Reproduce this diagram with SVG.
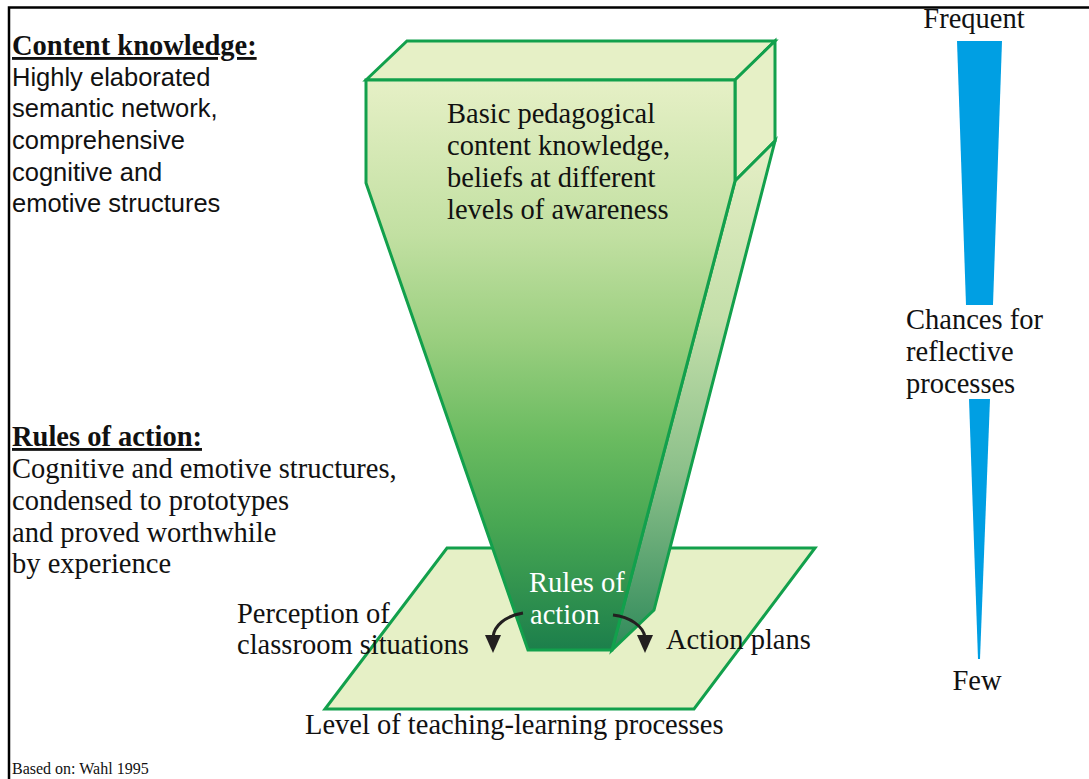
<svg xmlns="http://www.w3.org/2000/svg" width="1089" height="779" viewBox="0 0 1089 779">
<defs>
<linearGradient id="gFront" gradientUnits="userSpaceOnUse" x1="0" y1="80" x2="0" y2="650">
<stop offset="0" stop-color="#e6f0c6"/>
<stop offset="0.27" stop-color="#c2e0a2"/>
<stop offset="0.45" stop-color="#9bcf80"/>
<stop offset="0.63" stop-color="#6abb60"/>
<stop offset="0.78" stop-color="#48a753"/>
<stop offset="1" stop-color="#1c7f4b"/>
</linearGradient>
<linearGradient id="gSide" gradientUnits="userSpaceOnUse" x1="0" y1="141" x2="0" y2="650">
<stop offset="0" stop-color="#e6efc6"/>
<stop offset="0.35" stop-color="#c4dfaa"/>
<stop offset="0.65" stop-color="#8cc08a"/>
<stop offset="1" stop-color="#2f8a5a"/>
</linearGradient>
<style>
.s{font-family:"Liberation Serif","Times New Roman",serif;font-size:28.5px;fill:#111}
.a{font-family:"Liberation Sans",Arial,sans-serif;font-size:25.5px;fill:#111}
.h{font-family:"Liberation Serif","Times New Roman",serif;font-size:28.5px;font-weight:bold;fill:#111;text-decoration:underline}
.g{stroke:#12a04c;stroke-width:3;stroke-linejoin:miter}
.b{fill:#009fe3}
.arr{fill:none;stroke:#231f20;stroke-width:3}
</style>
</defs>
<rect x="0" y="0" width="1089" height="779" fill="#fff"/>
<path d="M9,779 L9,7.5 L1089,7.5" fill="none" stroke="#000" stroke-width="2.5"/>

<g id="base-level">
<polygon class="g" points="447,548 815,548 694,709 325,709" fill="#e6f0c6"/>
</g>

<g id="funnel">
<polygon class="g" points="366,80 407,41 775,41 735,80" fill="#e6f0c6"/>
<polygon class="g" points="735,80 775,41 775,141 735,181" fill="#e6f0c6"/>
<polygon class="g" points="735,181 775,141 654,610 612,650" fill="url(#gSide)"/>
<polygon class="g" points="366,80 735,80 735,181 612,650 528,650 366,183" fill="url(#gFront)"/>
<text class="s" x="447" y="123">Basic pedagogical</text>
<text class="s" x="447" y="155">content knowledge,</text>
<text class="s" x="447" y="187">beliefs at different</text>
<text class="s" x="447" y="219">levels of awareness</text>
<text class="s" x="529" y="592" style="fill:#fff">Rules of</text>
<text class="s" x="530" y="624" style="fill:#fff">action</text>
</g>

<g id="connectors">
<path class="arr" d="M523,613 C505,616 494,626 493,637"/>
<polygon points="485,635 501,635 493,653" fill="#231f20"/>
<path class="arr" d="M613,615 C630,617 643,626 645,637"/>
<polygon points="637,635 653,635 645,653" fill="#231f20"/>
</g>

<g id="perception">
<text class="s" x="237" y="623">Perception of</text>
<text class="s" x="237" y="654">classroom situations</text>
</g>
<g id="action-plans">
<text class="s" x="666" y="649">Action plans</text>
</g>
<g id="level-label">
<text class="s" x="305" y="734">Level of teaching-learning processes</text>
</g>

<g id="content-knowledge">
<text class="h" x="12" y="55">Content knowledge:</text>
<text class="a" x="12" y="86">Highly elaborated</text>
<text class="a" x="12" y="117">semantic network,</text>
<text class="a" x="12" y="149">comprehensive</text>
<text class="a" x="12" y="181">cognitive and</text>
<text class="a" x="12" y="212">emotive structures</text>
</g>

<g id="rules-of-action">
<text class="h" x="12" y="446">Rules of action:</text>
<text class="s" x="12" y="478">Cognitive and emotive structures,</text>
<text class="s" x="12" y="510">condensed to prototypes</text>
<text class="s" x="12" y="542">and proved worthwhile</text>
<text class="s" x="12" y="573">by experience</text>
</g>

<g id="reflection-scale">
<text class="s" x="974" y="28" text-anchor="middle">Frequent</text>
<polygon class="b" points="957,41 1002,41 993,305 966,305"/>
<text class="s" x="906" y="329">Chances for</text>
<text class="s" x="906" y="361">reflective</text>
<text class="s" x="906" y="393">processes</text>
<polygon class="b" points="969,399 990,399 980,659 978,659"/>
<text class="s" x="977" y="690" text-anchor="middle">Few</text>
</g>

<g id="source">
<text x="12" y="774" style="font-family:'Liberation Serif','Times New Roman',serif;font-size:16px;fill:#111">Based on: Wahl 1995</text>
</g>
</svg>
